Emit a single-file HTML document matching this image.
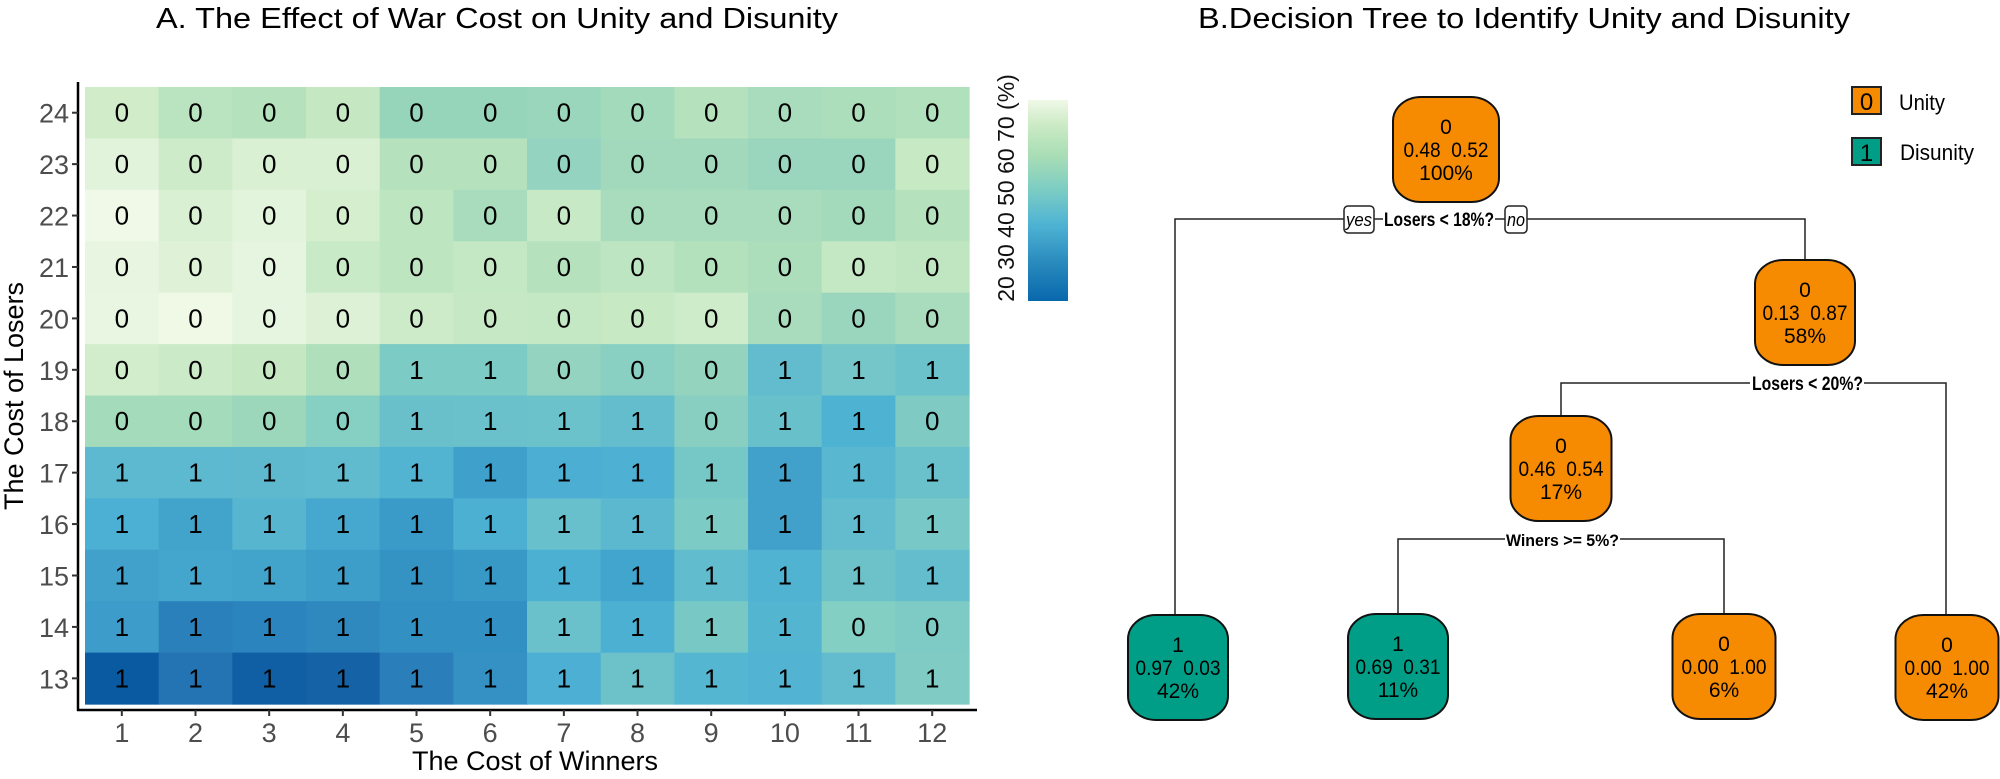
<!DOCTYPE html>
<html><head><meta charset="utf-8"><style>
html,body{margin:0;padding:0;background:#fff}
svg{display:block}
text{font-family:"Liberation Sans",Arial,sans-serif}
</style></head><body>
<svg width="2000" height="779" viewBox="0 0 2000 779" xmlns="http://www.w3.org/2000/svg">
<defs>
<linearGradient id="gnbu" x1="0" y1="1" x2="0" y2="0">
<stop offset="0" stop-color="#0868ac"/>
<stop offset="0.2" stop-color="#2b8cbe"/>
<stop offset="0.38" stop-color="#4eb3d3"/>
<stop offset="0.55" stop-color="#7bccc4"/>
<stop offset="0.72" stop-color="#a8ddb5"/>
<stop offset="0.88" stop-color="#ccebc5"/>
<stop offset="1" stop-color="#f0f9e8"/>
</linearGradient>
</defs>
<text x="156" y="28" font-size="29" textLength="682" lengthAdjust="spacingAndGlyphs">A. The Effect of War Cost on Unity and Disunity</text>
<text x="1198" y="28" font-size="29" textLength="652" lengthAdjust="spacingAndGlyphs">B.Decision Tree to Identify Unity and Disunity</text>
<g id="heat"></g>
<line x1="78" y1="82" x2="78" y2="711" stroke="#000" stroke-width="2.5"/>
<line x1="77" y1="710" x2="977" y2="710" stroke="#000" stroke-width="2.5"/>
<g id="ticks" stroke="#333" stroke-width="2"></g>
<g id="tlab" font-size="27" fill="#4d4d4d"></g>
<text transform="translate(23,396) rotate(-90)" font-size="27" text-anchor="middle">The Cost of Losers</text>
<text x="535" y="770" font-size="27" text-anchor="middle">The Cost of Winners</text>
<rect x="1028" y="100" width="40" height="201" fill="url(#gnbu)"/>
<text transform="translate(1014,188) rotate(-90)" font-size="23" text-anchor="middle" fill="#111">20 30 40 50 60 70 (%)</text>

<g stroke="#222" stroke-width="1.5" fill="none">
<polyline points="1175,615 1175,219 1344,219"/>
<line x1="1374" y1="219" x2="1383" y2="219"/>
<line x1="1495" y1="219" x2="1505" y2="219"/>
<polyline points="1527,219 1805,219 1805,260"/>
<polyline points="1561,416 1561,383 1750,383"/>
<polyline points="1864,383 1946,383 1946,615"/>
<polyline points="1398,614 1398,539 1505,539"/>
<polyline points="1620,539 1724,539 1724,614"/>
</g>
<g stroke="#222" stroke-width="1.5">
<rect x="1344" y="206" width="30" height="27" rx="4" fill="#fff"/>
<rect x="1505" y="206" width="22" height="27" rx="4" fill="#fff"/>
</g>
<text x="1346" y="226" font-size="18" font-style="italic" textLength="26" lengthAdjust="spacingAndGlyphs">yes</text>
<text x="1507" y="226" font-size="18" font-style="italic" textLength="18" lengthAdjust="spacingAndGlyphs">no</text>
<text x="1384" y="226" font-size="19" font-weight="bold" textLength="110" lengthAdjust="spacingAndGlyphs">Losers &lt; 18%?</text>
<text x="1752" y="390" font-size="19" font-weight="bold" textLength="111" lengthAdjust="spacingAndGlyphs">Losers &lt; 20%?</text>
<text x="1506" y="546" font-size="17" font-weight="bold" textLength="113" lengthAdjust="spacingAndGlyphs">Winers &gt;= 5%?</text>
<g id="nodes"></g>

<rect x="1852" y="87" width="29" height="27" fill="#F68A00" stroke="#222" stroke-width="2"/>
<text x="1866.5" y="110" font-size="24" text-anchor="middle">0</text>
<text x="1899" y="110" font-size="22" textLength="46" lengthAdjust="spacingAndGlyphs">Unity</text>
<rect x="1852" y="138" width="29" height="27" fill="#009E86" stroke="#222" stroke-width="2"/>
<text x="1866.5" y="161" font-size="24" text-anchor="middle">1</text>
<text x="1900" y="160" font-size="22" textLength="74" lengthAdjust="spacingAndGlyphs">Disunity</text>
</svg>
<script>
var NS="http://www.w3.org/2000/svg";
function el(p,t,a,txt){var e=document.createElementNS(NS,t);for(var k in a)e.setAttribute(k,a[k]);if(txt!==undefined)e.textContent=txt;p.appendChild(e);return e;}
var C=[
["#d0ecc9","#bae4bf","#b5e2bc","#c5e8c3","#97d5bb","#97d5bb","#9ad6bc","#a3dabc","#b5e2bd","#a8dcbc","#acdebc","#b0e0bc"],
["#e2f3dc","#cdebc8","#d9f0d3","#d9f0d3","#b5e2bc","#b5e2bc","#93d3bf","#a2d9bd","#a2d9bd","#9ad6bd","#9ad6bd","#c7e9c3"],
["#f0f9e8","#d9f0d3","#e2f4dc","#d5eece","#bce5c0","#a8dcbc","#c8e9c5","#a8dcbc","#a8dcbc","#a8dcbc","#a4dabc","#b5e2bd"],
["#e8f6e1","#dff2d8","#e6f5df","#c9eac6","#bde5c0","#c4e8c3","#b5e2bd","#bde5c1","#b3e1bc","#acdebc","#c4e8c3","#c0e6c1"],
["#e9f6e2","#eff9e6","#e6f5df","#dcf1d5","#cdebc9","#c6e8c4","#c4e8c3","#c7e9c4","#cfecca","#a8dcbc","#9ad6bd","#a9dcbc"],
["#d2edcc","#cbeac7","#c5e8c3","#afdfbb","#7ccbc4","#7ccbc4","#93d3c0","#89cfc2","#94d4bf","#62bccd","#74c6c8","#6cc2ca"],
["#a4dbbb","#a4dbbb","#9cd7bc","#86cfc3","#69c0cb","#6ac1cb","#6cc2cb","#64bdcd","#88cfc2","#68c0cb","#4eb2d3","#7fcbc4"],
["#5db9cf","#5db9cf","#5eb9cf","#60bbce","#53b4d1","#3fa1cb","#4caed3","#4eb1d3","#76c8c7","#41a1cb","#5ab7d0","#6ac0cb"],
["#4bb0d3","#42a3cb","#57b5d0","#46a8cf","#3a9ac8","#4cb0d3","#67c0cc","#5bb8cf","#7dcbc5","#41a1cb","#62bccd","#78c8c7"],
["#41a1cb","#44a5cd","#42a3cb","#3d9ec9","#3593c4","#3899c7","#4cb0d3","#42a5ce","#61bcce","#50b3d2","#6dc2ca","#64bdcc"],
["#3d9cc9","#2a80bb","#2b84bd","#2f89bf","#3290c3","#3290c3","#6ac1cb","#4cb0d3","#78c8c6","#54b5d1","#84cfc3","#7ecbc5"],
["#0a5aa1","#2474b3","#105fa4","#1563a6","#2a7fba","#3590c3","#4cafd3","#6dc2ca","#55b6d1","#52b4d2","#62bccd","#80ccc4"]];
var V=["000000000000","000000000000","000000000000","000000000000","000000000000",
"000011000111","000011110110","111111111111","111111111111","111111111111","111111111100","111111111111"];
var h=document.getElementById("heat"),tk=document.getElementById("ticks"),tl=document.getElementById("tlab");
var x0=85,y0=87,cw=73.67,rh=51.42;
for(var r=0;r<12;r++){for(var c=0;c<12;c++){
 el(h,"rect",{x:x0+c*cw,y:y0+r*rh,width:cw+0.6,height:rh+0.6,fill:C[r][c]});
 el(h,"text",{x:x0+c*cw+cw/2,y:y0+r*rh+rh/2+9,"font-size":26,"text-anchor":"middle"},V[r][c]);}
 var yc=y0+r*rh+rh/2;
 el(tk,"line",{x1:72,y1:yc,x2:78,y2:yc});
 el(tl,"text",{x:69,y:yc+10,"text-anchor":"end"},String(24-r));}
for(var c=0;c<12;c++){var xc=x0+c*cw+cw/2;
 el(tk,"line",{x1:xc,y1:710,x2:xc,y2:716});
 el(tl,"text",{x:xc,y:742,"text-anchor":"middle"},String(c+1));}
var N=[[1446,97,"#F68A00","0","0.48  0.52","100%",106],[1805,260,"#F68A00","0","0.13  0.87","58%",100],
[1561,416,"#F68A00","0","0.46  0.54","17%",101],[1178,615,"#009E86","1","0.97  0.03","42%",100],
[1398,614,"#009E86","1","0.69  0.31","11%",100],[1724,614,"#F68A00","0","0.00  1.00","6%",103],[1947,615,"#F68A00","0","0.00  1.00","42%",103]];
var g=document.getElementById("nodes");
N.forEach(function(n){var w=n[6];
 el(g,"rect",{x:n[0]-w/2,y:n[1],width:w,height:105,rx:28,ry:24,fill:n[2],stroke:"#111","stroke-width":2});
 el(g,"text",{x:n[0],y:n[1]+37,"font-size":21,"text-anchor":"middle"},n[3]);
 var t=el(g,"text",{x:n[0],y:n[1]+60,"font-size":21,"text-anchor":"middle",textLength:85,lengthAdjust:"spacingAndGlyphs"},n[4]);t.style.whiteSpace="pre";
 el(g,"text",{x:n[0],y:n[1]+83,"font-size":21,"text-anchor":"middle"},n[5]);});
</script>
</body></html>
